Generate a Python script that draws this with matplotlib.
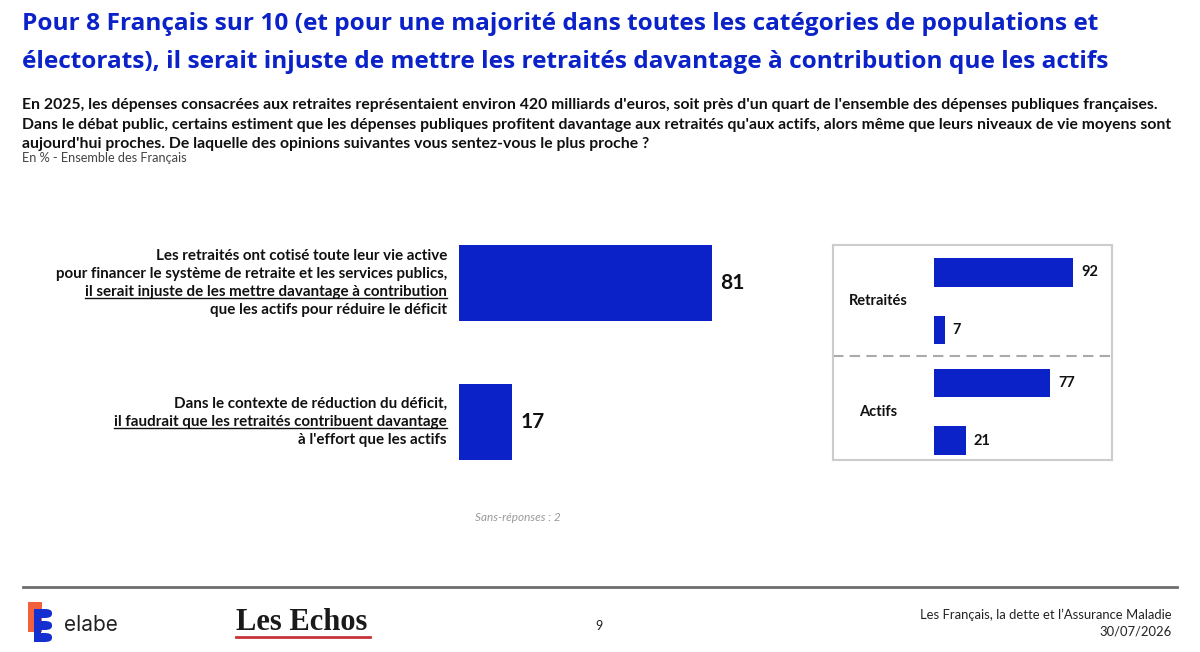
import matplotlib.pyplot as plt
from matplotlib.patches import Rectangle, FancyBboxPatch
from matplotlib.lines import Line2D

# ---- data ----
title_lines = [
    "Pour 8 Français sur 10 (et pour une majorité dans toutes les catégories de populations et",
    "électorats), il serait injuste de mettre les retraités davantage à contribution que les actifs",
]
question_lines = [
    "En 2025, les dépenses consacrées aux retraites représentaient environ 420 milliards d'euros, soit près d'un quart de l'ensemble des dépenses publiques françaises.",
    "Dans le débat public, certains estiment que les dépenses publiques profitent davantage aux retraités qu'aux actifs, alors même que leurs niveaux de vie moyens sont",
    "aujourd'hui proches. De laquelle des opinions suivantes vous sentez-vous le plus proche ?",
]
base_text = "En % - Ensemble des Français"

opinion_lines = [
    ["Les retraités ont cotisé toute leur vie active",
     "pour financer le système de retraite et les services publics,",
     "il serait injuste de les mettre davantage à contribution",
     "que les actifs pour réduire le déficit"],
    ["Dans le contexte de réduction du déficit,",
     "il faudrait que les retraités contribuent davantage",
     "à l'effort que les actifs"],
]
underlined = [[2], [1]]
opinion_values = [81, 17]
no_answer = 2

groups = ["Retraités", "Actifs"]
group_values = [[92, 7], [77, 21]]

footer_title = "Les Français, la dette et l\u2019Assurance Maladie"
footer_date = "30/07/2026"
page_num = "9"

BLUE = "#0A22C8"
W, H = 1200, 652

fig = plt.figure(figsize=(12, 6.52), dpi=100)
fig.patch.set_facecolor("white")


def fx(x):
    return x / W


def fy(y):
    return 1 - y / H


sans = ["Lato", "DejaVu Sans"]

# title
for i, line in enumerate(title_lines):
    fig.text(fx(22), fy(30 + 38 * i), line, color=BLUE, fontsize=17.6,
             fontweight="bold", family=["Open Sans", "DejaVu Sans"], va="baseline")

# question
for i, line in enumerate(question_lines):
    fig.text(fx(22), fy(109 + 19.5 * i), line, color="#111111", fontsize=11.3,
             fontweight="bold", family=sans, va="baseline")
fig.text(fx(22), fy(162), base_text, color="#444444", fontsize=9.2,
         family=sans, va="baseline")

# main bars
ax = fig.add_axes([fx(459), fy(491.5), 312 / W, 278 / H])
ypos = list(range(len(opinion_values)))
ax.barh(ypos, opinion_values, height=0.547, color=BLUE)
ax.set_xlim(0, 100)
ax.set_ylim(1.5, -0.5)
ax.axis("off")
for y, v in zip(ypos, opinion_values):
    ax.text(v + 2.6, y, str(v), va="center", ha="left", fontsize=15,
            fontweight="bold", family=sans, color="#111111")

label_texts = []
for y, lines, und in zip(ypos, opinion_lines, underlined):
    n = len(lines)
    for j, line in enumerate(lines):
        off = (j - (n - 1) / 2) * 18 * 0.72  # px -> points
        t = ax.annotate(line, xy=(fx(447), y), xycoords=("figure fraction", "data"),
                        xytext=(0, -off), textcoords="offset points",
                        ha="right", va="center", fontsize=10.9, fontweight="bold",
                        family=sans, color="#111111")
        if j in und:
            label_texts.append(t)

ax.text(19, 1.69, "Sans-réponses : %d" % no_answer,
        ha="center", va="center", fontsize=8.5, style="italic", color="#999999",
        family=sans, clip_on=False)

# inset box
ax2 = fig.add_axes([fx(833), fy(460), 279 / W, 215 / H])
gap = 1.91
for g, (name, vals) in enumerate(zip(groups, group_values)):
    pos = [g * gap + k for k in range(len(vals))]
    ax2.barh(pos, vals, height=0.49, color=BLUE)
    for p, v in zip(pos, vals):
        ax2.text(v + 5.3, p, str(v), va="center", ha="left", fontsize=10.5,
                 fontweight="bold", family=sans, color="#111111")
    ax2.text(-37, g * gap + 0.5, name, ha="center", va="center", fontsize=10.5,
             fontweight="bold", family=sans, color="#111111")
ax2.axhline(1.44, color="#aaaaaa", lw=1.5, ls=(0, (5, 3)))
ax2.set_xlim(-66.9, 117.9)
ax2.set_ylim(3.246, -0.474)
ax2.set_xticks([])
ax2.set_yticks([])
for s in ax2.spines.values():
    s.set_color("#cccccc")
    s.set_linewidth(1.5)

# footer
fig.add_artist(Line2D([fx(23), fx(1177)], [fy(587), fy(587)], color="#6e6e6e", lw=2))
fig.text(fx(1172), fy(619), footer_title, ha="right", va="baseline", fontsize=9.4,
         family=sans, color="#222222")
fig.text(fx(1172), fy(636), footer_date, ha="right", va="baseline", fontsize=9.4,
         family=sans, color="#222222")
fig.text(fx(599), fy(630), page_num, ha="center", va="baseline", fontsize=9,
         family=sans, color="#222222")

# elabe logo
fig.add_artist(Rectangle((fx(28), fy(632)), 14 / W, 30 / H, color="#F2603C", lw=0))
for yy in (609, 621, 633):
    fig.add_artist(FancyBboxPatch((fx(34), fy(yy + 9)), 18 / W, 9 / H,
                                  boxstyle="round,pad=0,rounding_size=0.006",
                                  color="#1530D0", lw=0))
fig.add_artist(Rectangle((fx(34), fy(642)), 7 / W, 33 / H, color="#1530D0", lw=0))
fig.text(fx(64), fy(631), "elabe", fontsize=15, family=["Inter", "DejaVu Sans"],
         color="#222222", va="baseline")

# Les Echos logo
fig.text(fx(236), fy(630), "Les Echos", fontsize=22, fontweight="bold",
         family=["Liberation Serif", "DejaVu Serif"], color="#1a1a1a", va="baseline")
fig.add_artist(Line2D([fx(236), fx(370)], [fy(637), fy(637)], color="#C8333A", lw=2))

# underlines under emphasised label lines
fig.canvas.draw()
r = fig.canvas.get_renderer()
for t in label_texts:
    bb = t.get_window_extent(r)
    yline = bb.y0 + 1
    fig.add_artist(Line2D([bb.x0 / W, bb.x1 / W], [yline / H, yline / H],
                          color="#111111", lw=1))

fig.savefig("out.png", dpi=100)
